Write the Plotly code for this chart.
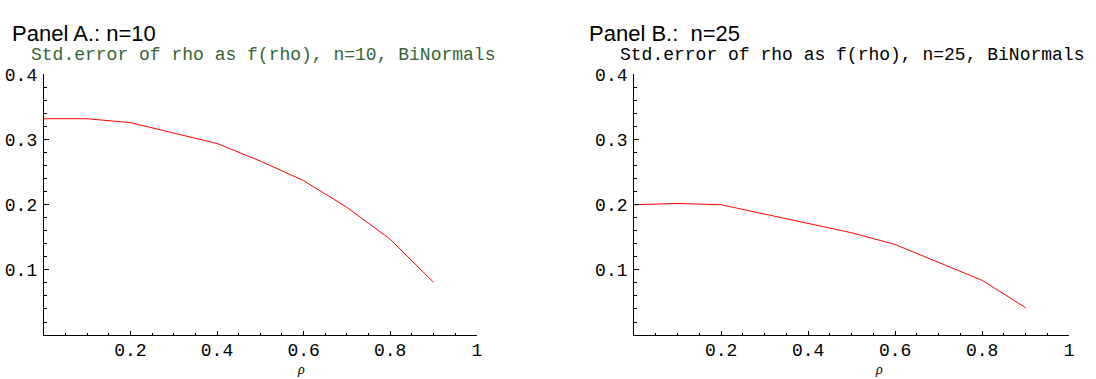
import plotly.graph_objects as go

rho = [0.0, 0.1, 0.2, 0.3, 0.4, 0.5, 0.6, 0.7, 0.8, 0.9]
se_n10 = [0.332, 0.332, 0.326, 0.310, 0.294, 0.267, 0.237, 0.196, 0.147, 0.081]
se_n25 = [0.200, 0.202, 0.200, 0.186, 0.172, 0.157, 0.139, 0.111, 0.084, 0.042]

panel_titles = ["Panel A.: n=10", "Panel B.:  n=25"]
subtitles = ["Std.error of rho as f(rho), n=10, BiNormals",
             "Std.error of rho as f(rho), n=25, BiNormals"]
subtitle_colors = ["#336633", "#000000"]
x_tickvals = [0.2, 0.4, 0.6, 0.8, 1.0]
x_ticktext = ["0.2", "0.4", "0.6", "0.8", "1"]
y_tickvals = [0.1, 0.2, 0.3, 0.4]
y_ticktext = ["0.1", "0.2", "0.3", "0.4"]
x_minor = [round(0.05 * i, 2) for i in range(1, 20)]
y_minor = [round(0.02 * i, 2) for i in range(1, 20)]

W, H = 1096, 379
xdom = [[44 / W, 479 / W], [637 / W, 1074 / W]]
ydom = [(H - 334) / H, (H - 67) / H]

fig = go.Figure()
fig.add_trace(go.Scatter(x=rho, y=se_n10, mode="lines",
                         line=dict(color="#ff0000", width=1), xaxis="x", yaxis="y"))
fig.add_trace(go.Scatter(x=rho, y=se_n25, mode="lines",
                         line=dict(color="#ff0000", width=1), xaxis="x2", yaxis="y2"))

tickfont = dict(family="Liberation Mono", size=18, color="#000000")
for i in range(2):
    sfx = "" if i == 0 else str(i + 1)
    fig.layout["xaxis" + sfx] = dict(
        domain=xdom[i], range=[0, 1], anchor="y" + sfx,
        showline=True, linecolor="#000000", linewidth=1,
        showgrid=False, zeroline=False,
        tickmode="array", tickvals=x_tickvals, ticktext=x_ticktext,
        ticks="inside", ticklen=4, tickcolor="#000000", tickwidth=1,
        minor=dict(tickmode="array", tickvals=x_minor, ticks="inside",
                   ticklen=2, tickcolor="#000000", showgrid=False),
        tickfont=tickfont, ticklabelstandoff=-2,
    )
    fig.layout["yaxis" + sfx] = dict(
        domain=ydom, range=[0, 0.4], anchor="x" + sfx,
        showline=True, linecolor="#000000", linewidth=1,
        showgrid=False, zeroline=False,
        tickmode="array", tickvals=y_tickvals, ticktext=y_ticktext,
        ticks="inside", ticklen=5, tickcolor="#000000", tickwidth=1,
        minor=dict(tickmode="array", tickvals=y_minor, ticks="inside",
                   ticklen=3, tickcolor="#000000", showgrid=False),
        tickfont=tickfont, ticklabelstandoff=2,
    )

title_x = [10 / W, 590 / W]
sub_x = [29 / W, 621 / W]
rho_x = [0.595, 0.563]
for i in range(2):
    sfx = "" if i == 0 else str(i + 1)
    fig.add_annotation(text=panel_titles[i], xref="paper", yref="paper",
                       x=title_x[i], y=(H - 25) / H, xanchor="left", yanchor="middle",
                       showarrow=False,
                       font=dict(family="Liberation Sans", size=22, color="#000000"))
    fig.add_annotation(text=subtitles[i], xref="paper", yref="paper",
                       x=sub_x[i], y=(H - 47) / H, xanchor="left", yanchor="middle",
                       showarrow=False,
                       font=dict(family="Liberation Mono", size=18, color=subtitle_colors[i]))
    fig.add_annotation(text="<i>ρ</i>", xref="x" + sfx, yref="paper",
                       x=rho_x[i], y=0, xanchor="center", yanchor="bottom",
                       showarrow=False,
                       font=dict(family="Liberation Serif", size=14, color="#000000"))

fig.update_layout(width=W, height=H, margin=dict(l=0, r=0, t=0, b=0),
                  paper_bgcolor="#ffffff", plot_bgcolor="#ffffff",
                  showlegend=False)

fig.write_html("out.html")
